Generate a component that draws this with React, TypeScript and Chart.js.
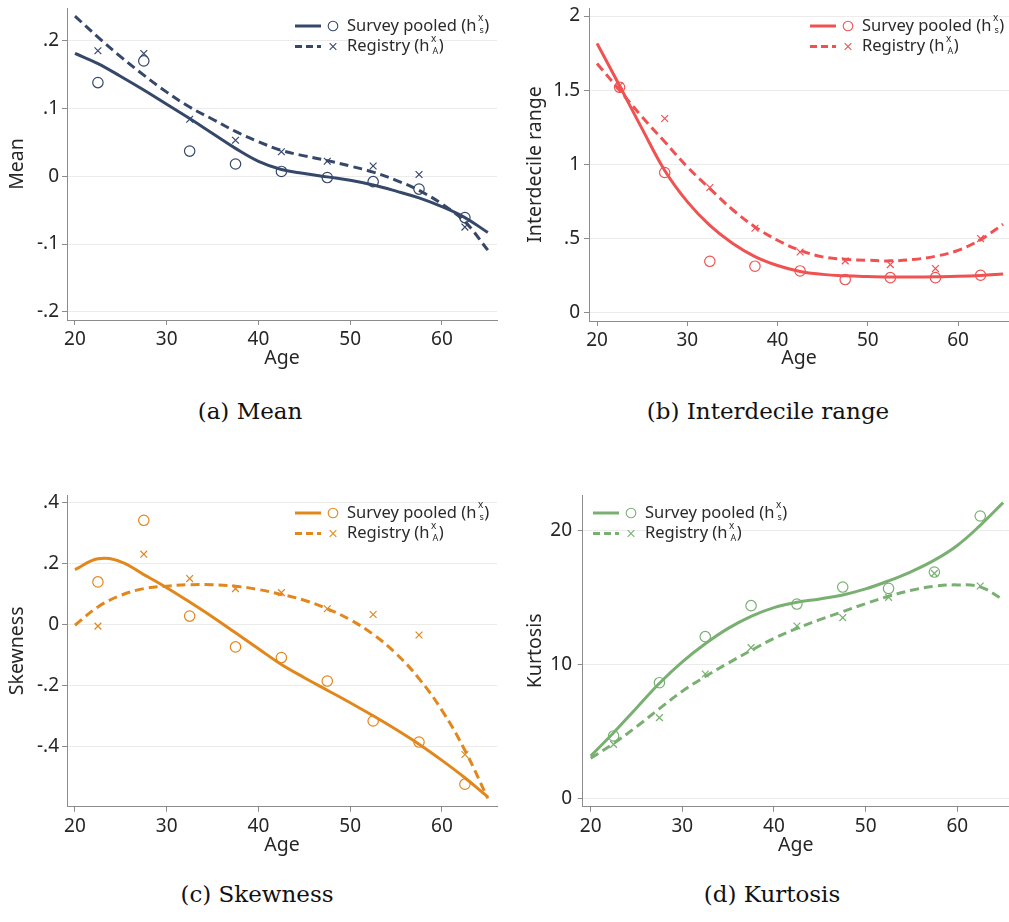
import React, { useEffect, useRef } from 'react';
import { Chart, registerables } from 'chart.js';

Chart.register(...registerables);

const FONT = "'Noto Sans', sans-serif";

// Age bins (5-year bins, plotted at bin midpoints) and the age grid of the fitted curves
const binAges = [22.5, 27.5, 32.5, 37.5, 42.5, 47.5, 52.5, 57.5, 62.5];
const fitAges = [20, 22.5, 25, 27.5, 30, 32.5, 35, 37.5, 40, 42.5, 45, 47.5, 50, 52.5, 55, 57.5, 60, 62.5, 65];
const xTickValues = [20, 30, 40, 50, 60];

// (a) Mean
const meanSurvey = [0.138, 0.17, 0.037, 0.018, 0.007, -0.002, -0.008, -0.019, -0.061];
const meanRegistry = [0.185, 0.181, 0.084, 0.053, 0.036, 0.022, 0.015, 0.0025, -0.075];
const meanSurveyFit = [0.181, 0.166, 0.147, 0.127, 0.106, 0.085, 0.063, 0.041, 0.022, 0.01, 0.004, -0.001, -0.006, -0.013, -0.022, -0.032, -0.045, -0.061, -0.083];
const meanRegistryFit = [0.236, 0.205, 0.176, 0.149, 0.124, 0.102, 0.084, 0.066, 0.051, 0.038, 0.03, 0.023, 0.015, 0.006, -0.006, -0.021, -0.041, -0.067, -0.109];
const meanTicks = [-0.2, -0.1, 0, 0.1, 0.2];
const meanTickLabels = ['-.2', '-.1', '0', '.1', '.2'];

// (b) Interdecile range
const iqrSurvey = [1.52, 0.946, 0.348, 0.315, 0.283, 0.225, 0.238, 0.238, 0.254];
const iqrRegistry = [1.53, 1.31, 0.845, 0.571, 0.411, 0.351, 0.326, 0.299, 0.501];
const iqrSurveyFit = [1.816, 1.53, 1.24, 0.96, 0.75, 0.59, 0.47, 0.38, 0.32, 0.28, 0.26, 0.25, 0.245, 0.242, 0.242, 0.244, 0.247, 0.253, 0.263];
const iqrRegistryFit = [1.68, 1.5, 1.32, 1.153, 0.984, 0.838, 0.697, 0.58, 0.49, 0.422, 0.378, 0.362, 0.355, 0.351, 0.36, 0.382, 0.422, 0.494, 0.598];
const iqrTicks = [0, 0.5, 1, 1.5, 2];
const iqrTickLabels = ['0', '.5', '1', '1.5', '2'];

// (c) Skewness
const skewSurvey = [0.14, 0.342, 0.028, -0.073, -0.108, -0.185, -0.316, -0.385, -0.523];
const skewRegistry = [-0.005, 0.231, 0.151, 0.118, 0.105, 0.052, 0.033, -0.034, -0.426];
const skewSurveyFit = [0.18, 0.216, 0.206, 0.164, 0.121, 0.074, 0.025, -0.027, -0.079, -0.131, -0.174, -0.215, -0.256, -0.299, -0.344, -0.392, -0.445, -0.502, -0.565];
const skewRegistryFit = [-0.002, 0.058, 0.096, 0.118, 0.126, 0.131, 0.131, 0.126, 0.115, 0.099, 0.08, 0.052, 0.016, -0.032, -0.095, -0.177, -0.281, -0.412, -0.57];
const skewTicks = [-0.4, -0.2, 0, 0.2, 0.4];
const skewTickLabels = ['-.4', '-.2', '0', '.2', '.4'];

// (d) Kurtosis
const kurtSurvey = [4.66, 8.64, 12.08, 14.4, 14.52, 15.79, 15.69, 16.91, 21.1];
const kurtRegistry = [4.03, 6.03, 9.29, 11.26, 12.88, 13.5, 15.02, 16.81, 15.87];
const kurtSurveyFit = [3.16, 4.9, 6.75, 8.6, 10.2, 11.55, 12.7, 13.6, 14.25, 14.65, 14.9, 15.2, 15.65, 16.25, 16.95, 17.8, 18.9, 20.4, 22.1];
const kurtRegistryFit = [2.99, 4.1, 5.35, 6.7, 8.0, 9.1, 10.1, 11.05, 11.95, 12.7, 13.35, 13.95, 14.55, 15.1, 15.55, 15.85, 15.95, 15.8, 14.85];
const kurtTicks = [0, 10, 20];
const kurtTickLabels = ['0', '10', '20'];

const seriesNames = ['Survey pooled', 'Registry'];
const seriesSubscripts = ['s', 'A'];

type Panel = {
  caption: string;
  captionCenter: number;
  captionTop: number;
  left: number;
  top: number;
  w: number;
  h: number;
  color: string;
  yTitle: string;
  yTitlePad: number;
  yAxisWidth: number;
  yTickPad: number;
  xAxisHeight: number;
  xTickPad: number;
  xTitlePad: number;
  padTop: number;
  padRight: number;
  xMin: number;
  xMax: number;
  yMin: number;
  yMax: number;
  yTicks: number[];
  yTickLabels: string[];
  survey: number[];
  registry: number[];
  surveyFit: number[];
  registryFit: number[];
  keySide: 'left' | 'right';
  keyDx: number;
  keyDy: number;
};

const panels: Panel[] = [
  {
    caption: '(a) Mean', captionCenter: 250, captionTop: 397,
    left: 0, top: 0, w: 505, h: 375, color: '#36486a',
    yTitle: 'Mean', yTitlePad: 5.3, yAxisWidth: 67, yTickPad: 3,
    xAxisHeight: 55, xTickPad: 3.6, xTitlePad: 5.3, padTop: 8, padRight: 8,
    xMin: 19.13, xMax: 66.0, yMin: -0.212, yMax: 0.248,
    yTicks: meanTicks, yTickLabels: meanTickLabels,
    survey: meanSurvey, registry: meanRegistry, surveyFit: meanSurveyFit, registryFit: meanRegistryFit,
    keySide: 'right', keyDx: 202, keyDy: 18,
  },
  {
    caption: '(b) Interdecile range', captionCenter: 768, captionTop: 397,
    left: 505, top: 0, w: 504, h: 375, color: '#f05252',
    yTitle: 'Interdecile range', yTitlePad: 18.3, yAxisWidth: 84, yTickPad: 4,
    xAxisHeight: 54, xTickPad: 3.6, xTitlePad: 5.3, padTop: 8, padRight: 0,
    xMin: 19.11, xMax: 65.65, yMin: -0.054, yMax: 2.054,
    yTicks: iqrTicks, yTickLabels: iqrTickLabels,
    survey: iqrSurvey, registry: iqrRegistry, surveyFit: iqrSurveyFit, registryFit: iqrRegistryFit,
    keySide: 'right', keyDx: 199, keyDy: 18,
  },
  {
    caption: '(c) Skewness', captionCenter: 257, captionTop: 880,
    left: 0, top: 485, w: 505, h: 375, color: '#e2871c',
    yTitle: 'Skewness', yTitlePad: 5.3, yAxisWidth: 67, yTickPad: 3,
    xAxisHeight: 53.3, xTickPad: 3.9, xTitlePad: 3.3, padTop: 10, padRight: 8,
    xMin: 19.13, xMax: 66.0, yMin: -0.597, yMax: 0.425,
    yTicks: skewTicks, yTickLabels: skewTickLabels,
    survey: skewSurvey, registry: skewRegistry, surveyFit: skewSurveyFit, registryFit: skewRegistryFit,
    keySide: 'right', keyDx: 202, keyDy: 18,
  },
  {
    caption: '(d) Kurtosis', captionCenter: 772, captionTop: 880,
    left: 505, top: 485, w: 504, h: 375, color: '#79b072',
    yTitle: 'Kurtosis', yTitlePad: 18.3, yAxisWidth: 77.7, yTickPad: 5.7,
    xAxisHeight: 53.3, xTickPad: 3.9, xTitlePad: 3.3, padTop: 10, padRight: 0,
    xMin: 19.13, xMax: 65.64, yMin: -0.63, yMax: 22.67,
    yTicks: kurtTicks, yTickLabels: kurtTickLabels,
    survey: kurtSurvey, registry: kurtRegistry, surveyFit: kurtSurveyFit, registryFit: kurtRegistryFit,
    keySide: 'left', keyDx: 10.3, keyDy: 18,
  },
];

// Key drawn inside the plot region: line sample, marker, and label with h^x_s / h^x_A
const seriesKeyPlugin = {
  id: 'seriesKey',
  afterDatasetsDraw(chart: any, _args: any, opts: any) {
    const { ctx, chartArea } = chart;
    const x0 = opts.side === 'left' ? chartArea.left + opts.dx : chartArea.right - opts.dx;
    const y0 = chartArea.top + opts.dy;
    seriesNames.forEach((name, i) => {
      const y = y0 + i * 20.5;
      ctx.save();
      ctx.strokeStyle = opts.color;
      ctx.lineWidth = 3;
      ctx.setLineDash(i === 0 ? [] : [7, 4]);
      ctx.beginPath();
      ctx.moveTo(x0, y);
      ctx.lineTo(x0 + 26, y);
      ctx.stroke();
      ctx.setLineDash([]);
      ctx.lineWidth = 1.1;
      const mx = x0 + 38;
      ctx.beginPath();
      if (i === 0) {
        ctx.arc(mx, y, 4.8, 0, Math.PI * 2);
      } else {
        ctx.moveTo(mx - 3.3, y - 3.3);
        ctx.lineTo(mx + 3.3, y + 3.3);
        ctx.moveTo(mx - 3.3, y + 3.3);
        ctx.lineTo(mx + 3.3, y - 3.3);
      }
      ctx.stroke();
      ctx.fillStyle = '#2a2a2a';
      ctx.textAlign = 'left';
      ctx.textBaseline = 'middle';
      ctx.font = `16.5px ${FONT}`;
      const main = `${name} (h`;
      const tx = x0 + 52;
      ctx.fillText(main, tx, y);
      let cx = tx + ctx.measureText(main).width + 1.5;
      ctx.font = `10px ${FONT}`;
      ctx.fillText('x', cx, y - 7.5);
      const w1 = ctx.measureText('x').width;
      ctx.font = `9px ${FONT}`;
      ctx.fillText(seriesSubscripts[i], cx + 1.5, y + 4.5);
      const w2 = ctx.measureText(seriesSubscripts[i]).width + 1.5;
      cx += Math.max(w1, w2) + 0.5;
      ctx.font = `16.5px ${FONT}`;
      ctx.fillText(')', cx, y);
      ctx.restore();
    });
  },
};

function tickLabelFor(values: number[], labels: string[]) {
  return (v: any) => {
    const idx = values.findIndex((t) => Math.abs(t - Number(v)) < 1e-9);
    return idx >= 0 ? labels[idx] : '';
  };
}

function buildChart(canvas: HTMLCanvasElement, p: Panel) {
  const axisGrey = '#8c8c8c';
  const textColor = '#262626';
  const tickFont = { family: FONT, size: 19 };
  const titleFont = { family: FONT, size: 19.5 };
  return new Chart(canvas, {
    type: 'scatter',
    data: {
      datasets: [
        {
          label: `${seriesNames[0]} fit`,
          data: fitAges.map((x, i) => ({ x, y: p.surveyFit[i] })),
          showLine: true,
          borderColor: p.color,
          borderWidth: 3,
          pointRadius: 0,
          tension: 0.4,
          fill: false,
          order: 1,
        },
        {
          label: `${seriesNames[1]} fit`,
          data: fitAges.map((x, i) => ({ x, y: p.registryFit[i] })),
          showLine: true,
          borderColor: p.color,
          borderWidth: 3,
          borderDash: [9, 5],
          pointRadius: 0,
          tension: 0.4,
          fill: false,
          order: 2,
        },
        {
          label: seriesNames[0],
          data: binAges.map((x, i) => ({ x, y: p.survey[i] })),
          showLine: false,
          pointStyle: 'circle',
          pointRadius: 5.2,
          pointBorderWidth: 1.2,
          borderColor: p.color,
          backgroundColor: 'rgba(0,0,0,0)',
          pointBackgroundColor: 'rgba(0,0,0,0)',
          order: 3,
        },
        {
          label: seriesNames[1],
          data: binAges.map((x, i) => ({ x, y: p.registry[i] })),
          showLine: false,
          pointStyle: 'crossRot',
          pointRadius: 4.8,
          pointBorderWidth: 1.2,
          borderColor: p.color,
          backgroundColor: 'rgba(0,0,0,0)',
          order: 4,
        },
      ],
    },
    options: {
      responsive: false,
      animation: false,
      devicePixelRatio: 1,
      events: [],
      layout: { autoPadding: false, padding: { top: p.padTop, right: p.padRight, left: 0, bottom: 0 } },
      plugins: {
        legend: { display: false },
        tooltip: { enabled: false },
        seriesKey: { side: p.keySide, dx: p.keyDx, dy: p.keyDy, color: p.color },
      } as any,
      scales: {
        x: {
          type: 'linear',
          position: 'bottom',
          min: p.xMin,
          max: p.xMax,
          afterBuildTicks: (scale: any) => {
            scale.ticks = xTickValues.map((value) => ({ value }));
          },
          afterFit: (scale: any) => {
            scale.height = p.xAxisHeight;
            scale.paddingLeft = 0;
            scale.paddingRight = 0;
            scale.paddingTop = 0;
            scale.paddingBottom = 0;
          },
          ticks: {
            autoSkip: false,
            maxRotation: 0,
            padding: p.xTickPad,
            color: textColor,
            font: tickFont,
            callback: (v: any) => String(v),
          },
          grid: {
            display: true,
            drawOnChartArea: false,
            drawTicks: true,
            tickLength: 5,
            tickColor: axisGrey,
            tickWidth: 1,
          },
          border: { display: true, color: axisGrey, width: 1 },
          title: {
            display: true,
            text: 'Age',
            color: textColor,
            font: titleFont,
            padding: { top: 0, bottom: p.xTitlePad },
          },
        },
        y: {
          type: 'linear',
          position: 'left',
          min: p.yMin,
          max: p.yMax,
          afterBuildTicks: (scale: any) => {
            scale.ticks = p.yTicks.map((value) => ({ value }));
          },
          afterFit: (scale: any) => {
            scale.width = p.yAxisWidth;
            scale.paddingLeft = 0;
            scale.paddingRight = 0;
            scale.paddingTop = 0;
            scale.paddingBottom = 0;
          },
          ticks: {
            autoSkip: false,
            padding: p.yTickPad,
            color: textColor,
            font: tickFont,
            callback: tickLabelFor(p.yTicks, p.yTickLabels),
          },
          grid: {
            display: true,
            drawOnChartArea: true,
            color: '#ebebeb',
            lineWidth: 1,
            drawTicks: true,
            tickLength: 5,
            tickColor: axisGrey,
            tickWidth: 1,
          },
          border: { display: true, color: axisGrey, width: 1 },
          title: {
            display: true,
            text: p.yTitle,
            color: textColor,
            font: titleFont,
            padding: { top: p.yTitlePad, bottom: 0 },
          },
        },
      },
    },
    plugins: [seriesKeyPlugin],
  } as any);
}

export default function App() {
  const canvasRefs = useRef<(HTMLCanvasElement | null)[]>([]);

  useEffect(() => {
    const charts = panels.map((p, i) => buildChart(canvasRefs.current[i] as HTMLCanvasElement, p));
    return () => charts.forEach((c) => c.destroy());
  }, []);

  return (
    <div
      style={{
        position: 'absolute',
        left: 0,
        top: 0,
        width: 1009,
        height: 922,
        background: '#ffffff',
        overflow: 'hidden',
      }}
    >
      {panels.map((p, i) => (
        <canvas
          key={p.caption}
          ref={(el) => {
            canvasRefs.current[i] = el;
          }}
          width={p.w}
          height={p.h}
          style={{ position: 'absolute', left: p.left, top: p.top, width: p.w, height: p.h, display: 'block' }}
        />
      ))}
      {panels.map((p) => (
        <div
          key={`cap-${p.caption}`}
          style={{
            position: 'absolute',
            left: p.captionCenter - 250,
            top: p.captionTop,
            width: 500,
            height: 28,
            lineHeight: '28px',
            textAlign: 'center',
            fontFamily: "'DejaVu Serif', serif",
            fontSize: 23,
            color: '#111',
            whiteSpace: 'nowrap',
          }}
        >
          {p.caption}
        </div>
      ))}
    </div>
  );
}
